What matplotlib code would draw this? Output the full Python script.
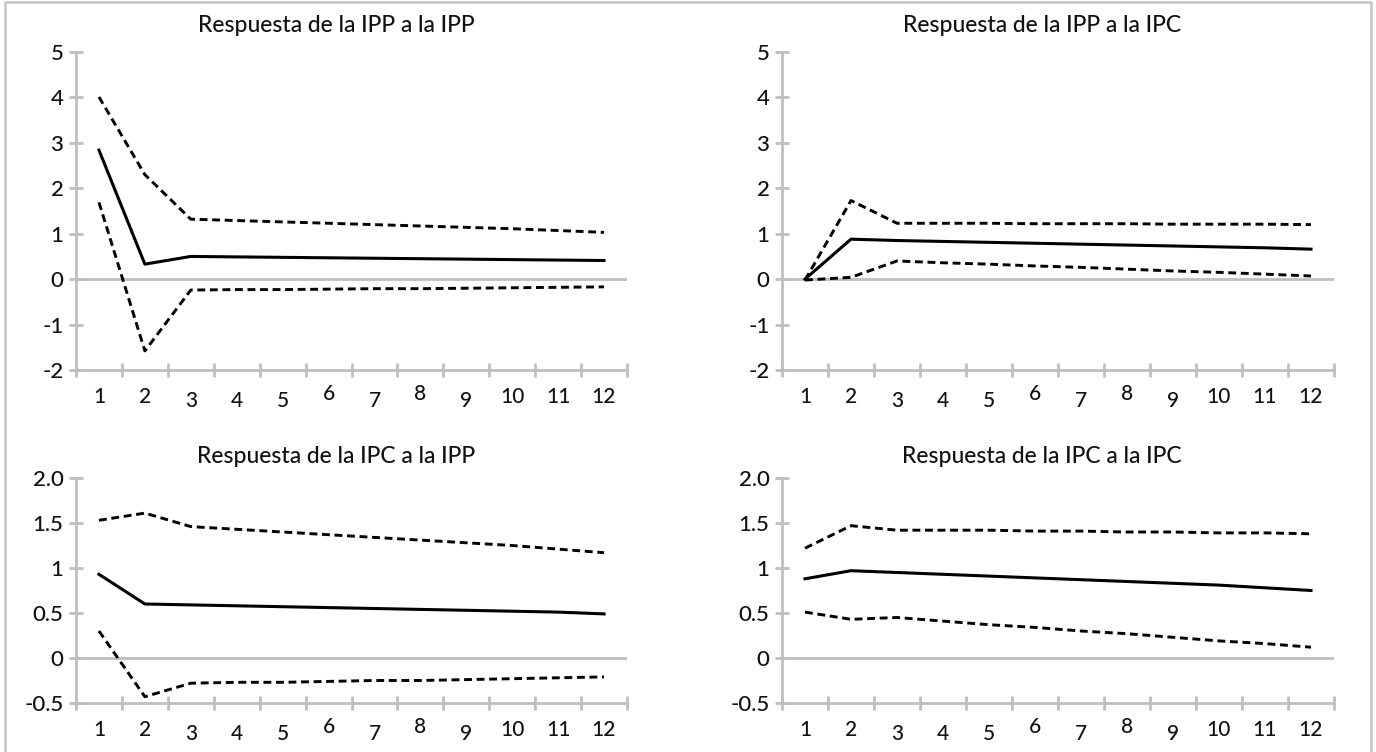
import matplotlib
matplotlib.use("Agg")
import matplotlib.pyplot as plt
import matplotlib.transforms as mtransforms
from matplotlib.lines import Line2D

plt.rcParams['font.family'] = ['Lato', 'DejaVu Sans']

periods = list(range(1, 13))
period_labels = [str(p) for p in periods]

# Respuesta de la IPP a la IPP
ipp_ipp = [2.84, 0.33, 0.50, 0.49, 0.48, 0.47, 0.46, 0.45, 0.44, 0.43, 0.42, 0.41]
ipp_ipp_up = [4.01, 2.30, 1.32, 1.29, 1.26, 1.23, 1.20, 1.17, 1.14, 1.11, 1.07, 1.03]
ipp_ipp_lo = [1.69, -1.58, -0.24, -0.23, -0.23, -0.22, -0.21, -0.21, -0.20, -0.19, -0.18, -0.17]

# Respuesta de la IPP a la IPC
ipp_ipc = [0.00, 0.88, 0.85, 0.83, 0.81, 0.79, 0.77, 0.75, 0.73, 0.71, 0.69, 0.66]
ipp_ipc_up = [-0.02, 1.73, 1.23, 1.23, 1.23, 1.22, 1.22, 1.22, 1.21, 1.21, 1.21, 1.20]
ipp_ipc_lo = [-0.02, 0.04, 0.40, 0.36, 0.33, 0.29, 0.26, 0.22, 0.18, 0.15, 0.11, 0.07]

# Respuesta de la IPC a la IPP
ipc_ipp = [0.93, 0.60, 0.59, 0.58, 0.57, 0.56, 0.55, 0.54, 0.53, 0.52, 0.51, 0.49]
ipc_ipp_up = [1.53, 1.61, 1.46, 1.43, 1.40, 1.37, 1.34, 1.31, 1.28, 1.25, 1.21, 1.17]
ipc_ipp_lo = [0.30, -0.43, -0.28, -0.27, -0.27, -0.26, -0.25, -0.25, -0.24, -0.23, -0.22, -0.21]

# Respuesta de la IPC a la IPC
ipc_ipc = [0.88, 0.97, 0.95, 0.93, 0.91, 0.89, 0.87, 0.85, 0.83, 0.81, 0.78, 0.75]
ipc_ipc_up = [1.22, 1.47, 1.42, 1.42, 1.42, 1.41, 1.41, 1.40, 1.40, 1.39, 1.39, 1.38]
ipc_ipc_lo = [0.51, 0.43, 0.45, 0.41, 0.37, 0.34, 0.30, 0.27, 0.23, 0.19, 0.16, 0.12]

titles = ["Respuesta de la IPP a la IPP", "Respuesta de la IPP a la IPC",
          "Respuesta de la IPC a la IPP", "Respuesta de la IPC a la IPC"]

top_yticks = [-2, -1, 0, 1, 2, 3, 4, 5]
top_ylabels = ["-2", "-1", "0", "1", "2", "3", "4", "5"]
bot_yticks = [-0.5, 0, 0.5, 1, 1.5, 2.0]
bot_ylabels = ["-0.5", "0", "0.5", "1", "1.5", "2.0"]

GRAY = "#bfbfbf"
W, H = 1376, 752

fig = plt.figure(figsize=(W / 100, H / 100), dpi=100)

# outer frame (bottom edge falls outside the picture)
bx0, bx1, by0 = 4.5 / W, 1371 / W, 1 - 1.5 / H
fig.lines.append(Line2D([bx0, bx0, bx1, bx1], [0, by0, by0, 0], transform=fig.transFigure,
                        color="#c4c4c4", lw=1.8))


def px_rect(left, right, top, bottom):
    return [left / W, 1 - bottom / H, (right - left) / W, (bottom - top) / H]


panels = [
    (px_rect(76, 627, 52, 370), ipp_ipp, ipp_ipp_up, ipp_ipp_lo, top_yticks, top_ylabels, (336, 25)),
    (px_rect(782, 1334, 52, 370), ipp_ipc, ipp_ipc_up, ipp_ipc_lo, top_yticks, top_ylabels, (1042, 25)),
    (px_rect(76, 627, 478, 703), ipc_ipp, ipc_ipp_up, ipc_ipp_lo, bot_yticks, bot_ylabels, (336, 456)),
    (px_rect(782, 1334, 478, 703), ipc_ipc, ipc_ipc_up, ipc_ipc_lo, bot_yticks, bot_ylabels, (1042, 456)),
]

# oldstyle-figure look: some digits sit lower, some higher
shift = {"3": -4, "4": -4, "5": -4, "7": -4, "9": -4, "6": 3, "8": 3}

for (rect, mid, up, lo, yt, yl, tpos), title in zip(panels, titles):
    ax = fig.add_axes(rect)
    ax.plot(periods, up, color="black", lw=2.1, ls=(0, (2.7, 1.6)))
    ax.plot(periods, lo, color="black", lw=2.1, ls=(0, (2.7, 1.6)))
    ax.plot(periods, mid, color="black", lw=2.2)
    ax.axhline(0, color=GRAY, lw=2.0, zorder=0)

    ax.set_xlim(0.5, 12.5)
    ax.set_ylim(yt[0], yt[-1])
    ax.set_yticks(yt)
    ax.set_yticklabels(yl)
    ax.set_xticks(periods)
    ax.set_xticklabels(period_labels)
    ax.set_xticks([p + 0.5 for p in range(0, 13)], minor=True)

    for s in ["top", "right"]:
        ax.spines[s].set_visible(False)
    for s in ["left", "bottom"]:
        ax.spines[s].set_color(GRAY)
        ax.spines[s].set_linewidth(2.0)

    ax.tick_params(axis="x", which="major", length=0, pad=12, labelsize=15, labelcolor="#111111")
    ax.tick_params(axis="x", which="minor", direction="inout", length=10, width=2.0, color=GRAY)
    ax.tick_params(axis="y", direction="inout", length=10, width=2.0, color=GRAY, pad=4,
                   labelsize=16, labelcolor="#111111")

    for lab in ax.get_xticklabels() + ax.get_yticklabels():
        lab.set_fontweight("medium")
    for lab in ax.get_xticklabels():
        d = shift.get(lab.get_text(), 0)
        if d:
            lab.set_transform(lab.get_transform() +
                              mtransforms.ScaledTranslation(0, d / 100, fig.dpi_scale_trans))

    fig.text(tpos[0] / W, 1 - tpos[1] / H, title, ha="center", va="center",
             fontsize=16.5, fontweight="medium", color="#111111")

fig.savefig("out.png", dpi=100)
